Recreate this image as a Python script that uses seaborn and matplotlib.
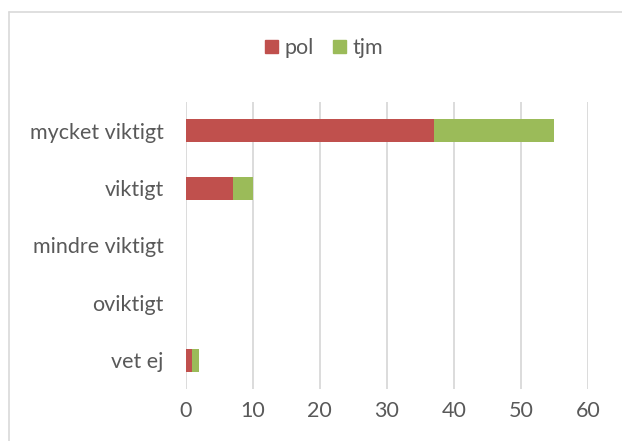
import matplotlib
matplotlib.use("Agg")
from matplotlib import pyplot as plt
from matplotlib.patches import Patch
from matplotlib.lines import Line2D
import seaborn as sns
import pandas as pd
import numpy as np

categories = ["mycket viktigt", "viktigt", "mindre viktigt", "oviktigt", "vet ej"]
pol = [37, 7, 0, 0, 1]
tjm = [18, 3, 0, 0, 1]

red = "#C0504D"
green = "#9BBB59"
text_col = "#595959"
grid_col = "#D9D9D9"

df = pd.DataFrame({"kategori": categories, "pol": pol, "tjm": tjm})
df["total"] = df["pol"] + df["tjm"]

sns.set_theme(style="white")
plt.rcParams['font.family'] = ['Lato', 'DejaVu Sans']

fig = plt.figure(figsize=(6.22, 4.41), dpi=100)
ax = fig.add_axes([0.2986, 0.1186, 0.6467, 0.6497])

# stacked: total in green, pol drawn over it in red
sns.barplot(data=df, x="total", y="kategori", orient="h", color=green,
			width=0.4, linewidth=0, saturation=1, ax=ax)
sns.barplot(data=df, x="pol", y="kategori", orient="h", color=red,
			width=0.4, linewidth=0, saturation=1, ax=ax)

ax.set_xlim(0, 60)
ax.set_xticks(np.arange(0, 61, 10))
ax.xaxis.grid(True, color=grid_col, linewidth=1.3)
ax.set_axisbelow(True)
for s in ax.spines.values():
	s.set_visible(False)
ax.set(xlabel=None, ylabel=None)
ax.tick_params(axis="both", length=0, labelsize=15.5, colors=text_col)
ax.tick_params(axis="y", pad=16)
ax.tick_params(axis="x", pad=9)

handles = [Patch(color=red, label="pol"), Patch(color=green, label="tjm")]
fig.legend(handles=handles, loc="center", bbox_to_anchor=(324 / 622, 1 - 48 / 441),
		   ncol=2, frameon=False, fontsize=15.5, labelcolor=text_col,
		   handlelength=0.6, handleheight=0.6, handletextpad=0.3, columnspacing=0.9)

# chart frame (top and left edges visible)
fig.add_artist(Line2D([8.5 / 622, 8.5 / 622], [0, 1 - 11.5 / 441], transform=fig.transFigure,
					  color=grid_col, linewidth=1.2))
fig.add_artist(Line2D([8.5 / 622, 1], [1 - 11.5 / 441, 1 - 11.5 / 441], transform=fig.transFigure,
					  color=grid_col, linewidth=1.2))

plt.savefig("out.png", dpi=100)
